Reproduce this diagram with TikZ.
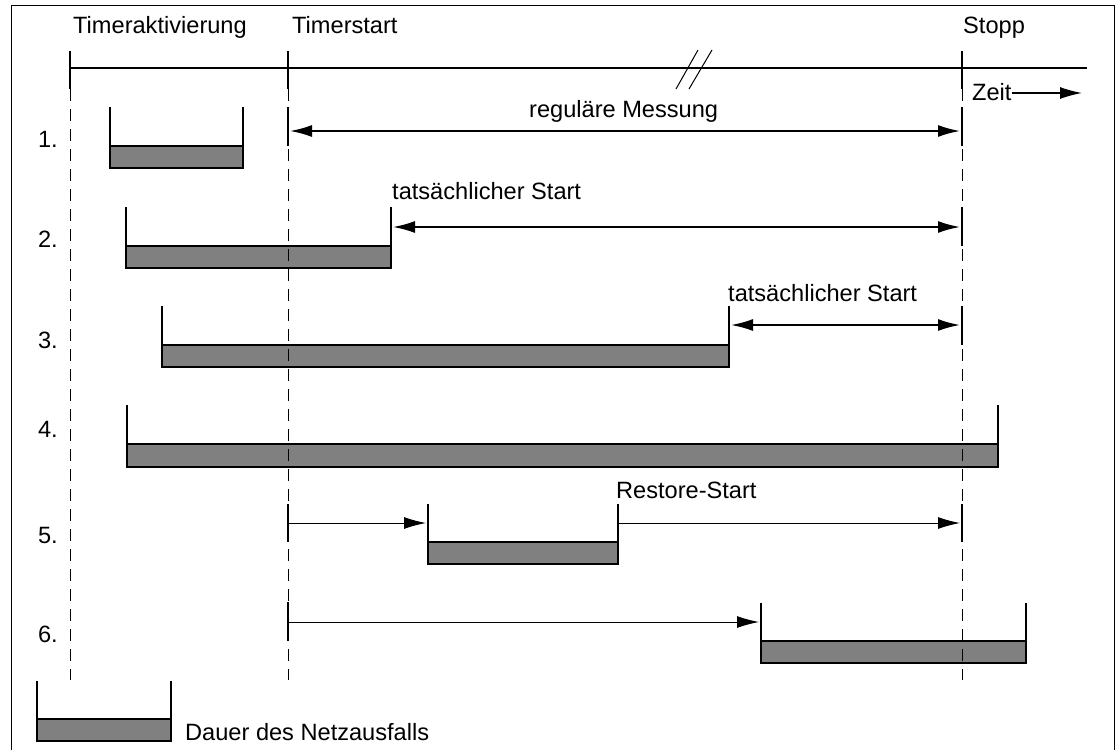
\documentclass[tikz,border=0pt]{standalone}
\usepackage{fontspec}
\setmainfont{Liberation Sans}
\usetikzlibrary{arrows.meta}

\begin{document}
\begin{tikzpicture}[
    x=1pt, y=-1pt,
    lbl/.style={font=\fontsize{23.6}{28}\selectfont, inner sep=0pt, anchor=base west},
    nr/.style={lbl, anchor=base east},
    rim/.style={line width=2.6pt},
    bar/.style={fill=gray, draw=black, line width=2.6pt},
    guide/.style={line width=1pt, dash pattern=on 12pt off 8pt},
    span/.style={line width=1.8pt, shorten <=2pt, shorten >=2pt,
      {Latex[length=22pt,width=12pt]}-{Latex[length=22pt,width=12pt]}},
    fwd/.style={line width=1pt, shorten >=2pt, -{Latex[length=22pt,width=12pt]}},
  ]
    \useasboundingbox (0,0) rectangle (1120,750);
    \draw[line width=1pt] (11,750) -- (11,5) -- (1114,5) -- (1114,750);

    % time axis
    \node[lbl] (akt) at (73,33) {Timeraktivierung};
    \node[lbl] (tst) at (292,33) {Timerstart};
    \node[lbl] (stp) at (963,33) {Stopp};
    \coordinate (ax0) at (70,68);
    \coordinate (ax1) at (1087,68);
    \draw[line width=2pt] (ax0) -- (ax1);
    \draw[line width=1pt] (676,89) -- (698,50) (689,89) -- (712,50);
    \node[lbl] (zeit) at (972,100) {Zeit};
    \coordinate (zend) at (1082,93);
    \draw[fwd, line width=1.3pt, shorten >=0pt] (zeit.east |- zend) -- (zend);

    % outages
    \filldraw[bar] (110,146) rectangle (243,168);
    \draw[rim] (110,146) -- (110,107) (243,146) -- (243,107);
    \filldraw[bar] (126,246) rectangle (391,268);
    \draw[rim] (126,246) -- (126,207) (391,246) -- (391,207);
    \filldraw[bar] (162,345) rectangle (729,367);
    \draw[rim] (162,345) -- (162,306) (729,345) -- (729,306);
    \filldraw[bar] (127,444) rectangle (998,467);
    \draw[rim] (127,444) -- (127,405) (998,444) -- (998,405);
    \filldraw[bar] (428,542) rectangle (618,564);
    \draw[rim] (428,542) -- (428,504) (618,542) -- (618,504);
    \filldraw[bar] (761,641) rectangle (1026,663);
    \draw[rim] (761,641) -- (761,603) (1026,641) -- (1026,603);

    % guides
    \draw[guide] (70,89) -- (70,680);
    \draw[guide] (288,89) -- (288,680);
    \draw[guide] (962,89) -- (962,680);
    \draw[rim] (70,51) -- (70,89) (288,51) -- (288,89) (962,51) -- (962,89);
    \draw[rim] (288,107) -- (288,146) (962,107) -- (962,146);
    \draw[rim] (962,207) -- (962,246);
    \draw[rim] (962,306) -- (962,345);
    \draw[rim] (288,504) -- (288,542) (962,504) -- (962,542);
    \draw[rim] (288,602) -- (288,641);

    % rows
    \node[nr] (n1) at (58,147) {1.};
    \node[nr] (n2) at (58,247) {2.};
    \node[nr] (n3) at (58,348) {3.};
    \node[nr] (n4) at (58,437) {4.};
    \node[nr] (n5) at (58,543) {5.};
    \node[nr] (n6) at (58,642) {6.};

    \coordinate (s1) at (288,131);
    \coordinate (e1) at (962,131);
    \draw[span] (s1) -- (e1);
    \node[lbl] (reg) at (529,117) {reguläre Messung};

    \coordinate (s2) at (391,227);
    \coordinate (e2) at (962,227);
    \draw[span] (s2) -- (e2);
    \node[lbl] (ts2) at (392,199) {tatsächlicher Start};

    \coordinate (s3) at (729,325);
    \coordinate (e3) at (962,325);
    \draw[span] (s3) -- (e3);
    \node[lbl] (ts3) at (728,301) {tatsächlicher Start};

    \coordinate (s5) at (288,523);
    \coordinate (w5) at (428,523);
    \coordinate (r5) at (618,523);
    \coordinate (e5) at (962,523);
    \draw[fwd] (s5) -- (w5);
    \draw[fwd] (r5) -- (e5);
    \node[lbl] (rst) at (616,498) {Restore-Start};

    \coordinate (s6) at (288,622);
    \coordinate (w6) at (761,622);
    \draw[fwd] (s6) -- (w6);

    % legend
    \filldraw[bar] (37,719) rectangle (171,741);
    \draw[rim] (37,719) -- (37,681) (171,719) -- (171,681);
    \node[lbl] (leg) at (185,740) {Dauer des Netzausfalls};
  \end{tikzpicture}
\end{document}
